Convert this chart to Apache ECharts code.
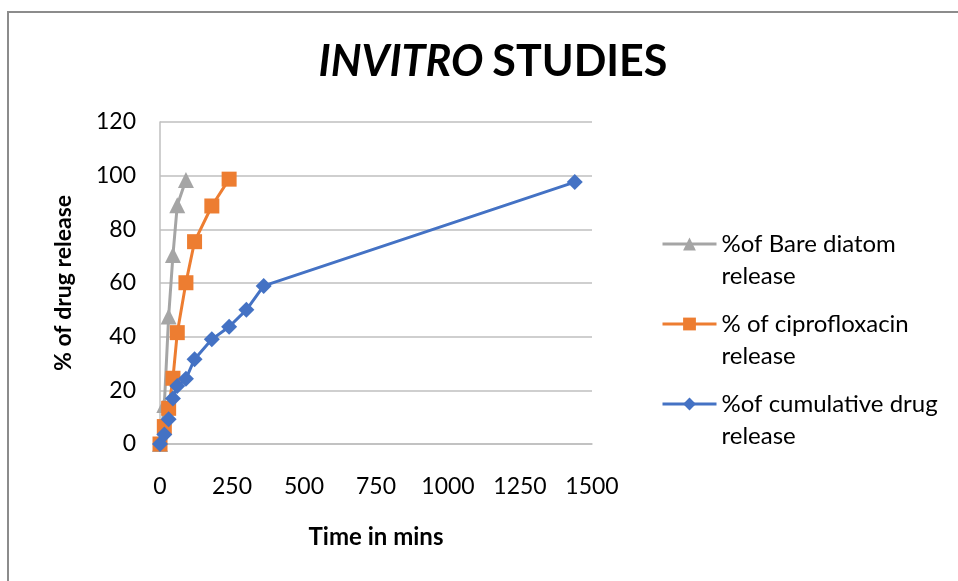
<!DOCTYPE html>
<html>
<head>
<meta charset="utf-8">
<script src="https://cdn.jsdelivr.net/npm/echarts@6/dist/echarts.min.js"></script>
<style>
  html, body { margin: 0; padding: 0; background: #fff; }
  #chart { width: 958px; height: 581px; }
</style>
</head>
<body>
<div id="chart"></div>
<script>
// Sampling times (minutes) and % released for each formulation
const bareTimes = [0, 15, 30, 45, 60, 90];
const bareRelease = [0, 14.5, 47.5, 70.4, 89, 98.4];

const ciproTimes = [0, 15, 30, 45, 60, 90, 120, 180, 240];
const ciproRelease = [0, 6.5, 13.3, 24.5, 41.5, 60.1, 75.4, 88.7, 98.7];

const cumTimes = [0, 15, 30, 45, 60, 90, 120, 180, 240, 300, 360, 1440];
const cumRelease = [0, 3.5, 9.2, 17, 21.6, 24.3, 31.6, 39, 43.7, 50, 58.9, 97.6];

const seriesNames = [
  '%of Bare diatom\nrelease',
  '% of ciprofloxacin\nrelease',
  '%of cumulative drug\nrelease'
];

const xTicks = { min: 0, max: 1500, step: 250 };
const yTicks = { min: 0, max: 120, step: 20 };

const pairs = (xs, ys) => xs.map((x, i) => [x, ys[i]]);

const FONT = 'Lato, "Open Sans", sans-serif';

const chart = echarts.init(document.getElementById('chart'), null, { renderer: 'canvas' });

function lineSeries(name, data, color, symbol, size) {
  return {
    name: name,
    type: 'line',
    data: data,
    symbol: symbol,
    symbolSize: size,
    showAllSymbol: true,
    lineStyle: { color: color, width: 3 },
    itemStyle: { color: color },
    emphasis: { disabled: true },
    animation: false
  };
}

chart.setOption({
  animation: false,
  backgroundColor: '#ffffff',
  title: {
    text: '{it|INVITRO}{sp| }{b|STUDIES}',
    left: 488,
    top: 36,
    textAlign: 'center',
    textStyle: {
      rich: {
        it: { fontFamily: FONT, fontSize: 43, fontWeight: 'bold', fontStyle: 'italic', color: '#000' },
        sp: { fontFamily: FONT, fontSize: 43, width: 9 },
        b: { fontFamily: FONT, fontSize: 43, fontWeight: 'bold', color: '#000' }
      }
    }
  },
  graphic: [{
    type: 'rect',
    shape: { x: 8, y: 12, width: 980, height: 600 },
    style: { fill: 'none', stroke: '#8c8c8c', lineWidth: 2 },
    silent: true,
    z: -1
  }],
  grid: { left: 160, right: 366, top: 122, bottom: 137 },
  legend: {
    orient: 'vertical',
    left: 656,
    top: 191,
    itemWidth: 54,
    itemHeight: 16,
    itemGap: -16,
    data: seriesNames,
    // leading blank line puts the icon level with the first text line
    formatter: name => '\n' + name,
    lineStyle: { width: 3 },
    textStyle: {
      fontFamily: FONT,
      fontSize: 24,
      lineHeight: 32,
      color: '#000'
    }
  },
  xAxis: {
    type: 'value',
    min: xTicks.min,
    max: xTicks.max,
    interval: xTicks.step,
    name: 'Time in mins',
    nameLocation: 'middle',
    nameGap: 81,
    nameTextStyle: { fontFamily: FONT, fontSize: 24, fontWeight: 'bold', color: '#000' },
    axisLine: { show: true, onZero: false, lineStyle: { color: '#bfbfbf', width: 1.5 } },
    axisTick: { show: false },
    splitLine: { show: false },
    axisLabel: { fontFamily: FONT, fontSize: 23, color: '#000', margin: 31, formatter: v => String(v) }
  },
  yAxis: {
    type: 'value',
    min: yTicks.min,
    max: yTicks.max,
    interval: yTicks.step,
    name: '% of drug release',
    nameLocation: 'middle',
    nameRotate: 90,
    nameGap: 85,
    nameTextStyle: { fontFamily: FONT, fontSize: 23, fontWeight: 'bold', color: '#000' },
    axisLine: { show: true, lineStyle: { color: '#bfbfbf', width: 1.5 } },
    axisTick: { show: false },
    splitLine: { show: true, lineStyle: { color: '#bfbfbf', width: 1.5 } },
    axisLabel: { fontFamily: FONT, fontSize: 23, color: '#000', margin: 24 }
  },
  series: [
    lineSeries(seriesNames[0], pairs(bareTimes, bareRelease), '#A5A5A5', 'triangle', 16),
    lineSeries(seriesNames[1], pairs(ciproTimes, ciproRelease), '#ED7D31', 'rect', 15),
    lineSeries(seriesNames[2], pairs(cumTimes, cumRelease), '#4472C4', 'diamond', 16)
  ]
});
</script>
</body>
</html>
